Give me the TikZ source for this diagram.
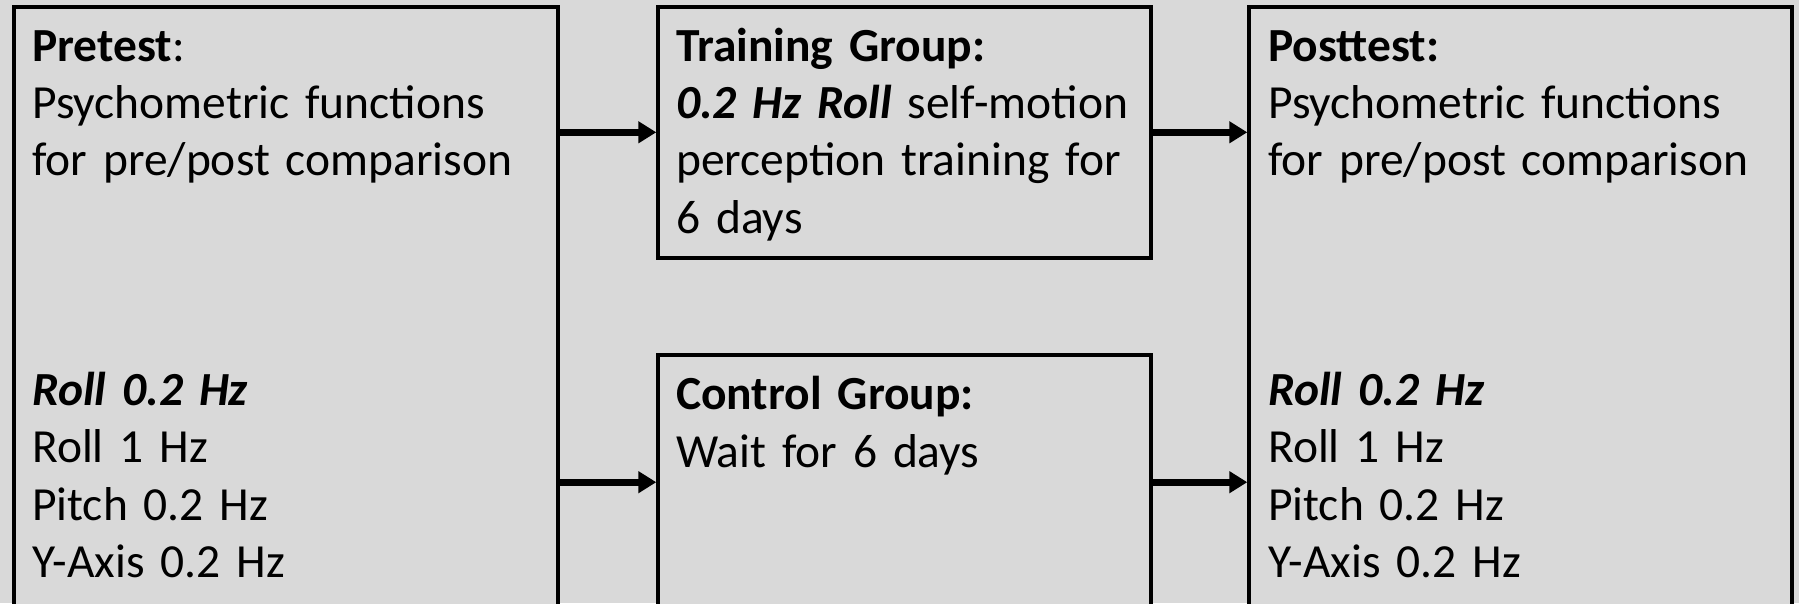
\documentclass[tikz,border=0pt]{standalone}
\usepackage{fontspec}
\setmainfont{Carlito}[WordSpace=0.7]
\usetikzlibrary{arrows.meta}
\definecolor{bg}{HTML}{D9D9D9}
\newcommand\mytxtfont{\fontsize{47.5pt}{57.4pt}\selectfont}
\begin{document}
\begin{tikzpicture}[x=1pt,y=-1pt,
  box/.style={draw=black, line width=4pt, fill=bg, rectangle, anchor=north west, inner sep=0pt},
  txt/.style={anchor=base west, inner sep=0pt, text width=520pt, align=left,
    font=\mytxtfont},
  arr/.style={line width=7pt, -{Triangle[length=18pt,width=21pt]}}]
\fill[bg] (0,0) rectangle (1799,603);
\useasboundingbox (0,0) rectangle (1799,603);
\node[box, minimum width=544.8pt, minimum height=615pt] (pre) at (11.5,4.6) {};
\node[box, minimum width=493pt, minimum height=251.4pt] (train) at (656.3,4.6) {};
\node[box, minimum width=493pt, minimum height=253.6pt] (ctl) at (656.3,353.4) {};
\node[box, minimum width=543pt, minimum height=615pt] (post) at (1247.3,4.6) {};
\node[txt] (pretxt) at (32,61) {\textbf{Pretest}:\\
Psychometric functions\\
for pre/post comparison\\[172.2pt]
\textbf{\textit{Roll 0.2 Hz}}\\
Roll 1 Hz\\
Pitch 0.2 Hz\\
Y-Axis 0.2 Hz};
\node[txt] (traintxt) at (676,61) {\textbf{Training Group:}\\
\textbf{\textit{0.2 Hz Roll}} self-motion\\
perception training for\\
6 days};
\node[txt] (ctltxt) at (676,409.8) {\textbf{Control Group:}\\
Wait for 6 days};
\node[txt] (posttxt) at (1268,61) {\textbf{Posttest:}\\
Psychometric functions\\
for pre/post comparison\\[172.2pt]
\textbf{\textit{Roll 0.2 Hz}}\\
Roll 1 Hz\\
Pitch 0.2 Hz\\
Y-Axis 0.2 Hz};
\draw[arr] (train.west -| pre.east) -- (train.west);
\draw[arr] (ctl.west -| pre.east) -- (ctl.west);
\draw[arr] (train.east) -- (train.east -| post.west);
\draw[arr] (ctl.east) -- (ctl.east -| post.west);
\end{tikzpicture}
\end{document}
